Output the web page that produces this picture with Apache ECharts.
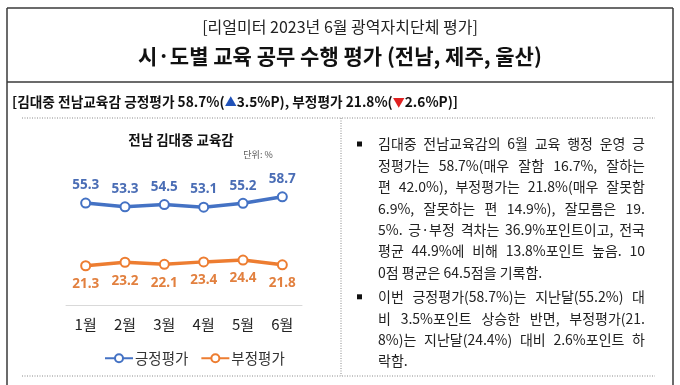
<!DOCTYPE html>
<html><head><meta charset="utf-8">
<script src="https://cdn.jsdelivr.net/npm/echarts@6/dist/echarts.min.js"></script>
<style>html,body{margin:0;padding:0;background:#fff}#c{width:680px;height:385px}</style>
</head><body><div id="c"></div>
<script>
// ---- data ----
const months = ['1월','2월','3월','4월','5월','6월'];
const positive = [55.3, 53.3, 54.5, 53.1, 55.2, 58.7];
const negative = [21.3, 23.2, 22.1, 23.4, 24.4, 21.8];
const seriesNames = ['긍정평가', '부정평가'];
const headTop = '[리얼미터 2023년 6월 광역자치단체 평가]';
const headMain = '시·도별 교육 공무 수행 평가 (전남, 제주, 울산)';
const chartTitle = '전남 김대중 교육감';
const unitText = '단위: %';
const para1 = [
  '김대중 전남교육감의 6월 교육 행정 운영 긍',
  '정평가는 58.7%(매우 잘함 16.7%, 잘하는',
  '편 42.0%), 부정평가는 21.8%(매우 잘못함',
  '6.9%, 잘못하는 편 14.9%), 잘모름은 19.',
  '5%. 긍·부정 격차는 36.9%포인트이고, 전국',
  '평균 44.9%에 비해 13.8%포인트 높음. 10',
  '0점 평균은 64.5점을 기록함.'
];
const para2 = [
  '이번 긍정평가(58.7%)는 지난달(55.2%) 대',
  '비 3.5%포인트 상승한 반면, 부정평가(21.',
  '8%)는 지난달(24.4%) 대비 2.6%포인트 하',
  '락함.'
];

const KR = '"Noto Sans CJK KR", "Noto Sans", sans-serif';
const BLUE = '#4472C4', ORANGE = '#ED7D31';

const cv = document.createElement('canvas').getContext('2d');
function justifyLines(lines, x0, yStart, width, lh, size, justifyLast) {
  const els = [];
  cv.font = size + 'px ' + KR;
  lines.forEach((ln, i) => {
    const words = ln.split(' ');
    const ws = words.map(w => cv.measureText(w).width);
    const sum = ws.reduce((a, b) => a + b, 0);
    const isLast = i === lines.length - 1;
    let gap = cv.measureText(' ').width;
    if (!(isLast && !justifyLast) && words.length > 1) gap = (width - sum) / (words.length - 1);
    let x = x0;
    const y = yStart + i * lh;
    words.forEach((w, k) => {
      els.push({type: 'text', x: x, y: y, silent: true,
        style: {text: w, fill: '#222', fontSize: size, fontFamily: KR, textVerticalAlign: 'middle'}});
      x += ws[k] + gap;
    });
  });
  return els;
}

const dotted = {stroke: '#8a8a8a', lineWidth: 1, lineDash: [1, 1.5]};
const frame = {stroke: '#3a3a3a', lineWidth: 1.5};
const TX0 = 378, TW = 267, LH = 21.4, FS = 14;
const P2 = 144 + 7 * LH + 3;

const graphics = [
  // outer frame
  {type: 'line', shape: {x1: 7, y1: 8, x2: 673, y2: 8}, style: frame},
  {type: 'line', shape: {x1: 7, y1: 82, x2: 673, y2: 82}, style: frame},
  {type: 'line', shape: {x1: 7, y1: 8, x2: 7, y2: 385}, style: frame},
  {type: 'line', shape: {x1: 673, y1: 8, x2: 673, y2: 385}, style: frame},
  // dotted dividers
  {type: 'line', shape: {x1: 22, y1: 118, x2: 655, y2: 118}, style: dotted},
  {type: 'line', shape: {x1: 22, y1: 376, x2: 655, y2: 376}, style: dotted},
  {type: 'line', shape: {x1: 341, y1: 118, x2: 341, y2: 376}, style: dotted},
  // headings
  {type: 'text', x: 340, y: 27, style: {text: headTop, fill: '#222', fontSize: 16, fontFamily: KR, textAlign: 'center', textVerticalAlign: 'middle'}},
  {type: 'text', x: 340, y: 56, style: {text: headMain, fill: '#111', fontSize: 21, fontWeight: 'bold', fontFamily: KR, textAlign: 'center', textVerticalAlign: 'middle'}},
  {type: 'text', x: 12, y: 102, style: {
    text: '{a|[김대중 전남교육감 긍정평가 58.7%(}{b|▲}{a|3.5%P), 부정평가 21.8%(}{c|▼}{a|2.6%P)]}',
    textVerticalAlign: 'middle',
    rich: {
      a: {fontSize: 13.7, fontWeight: 'bold', fontFamily: KR, fill: '#111', color: '#111'},
      b: {fontSize: 12, fontFamily: KR, fill: '#2152b8', color: '#2152b8'},
      c: {fontSize: 12, fontFamily: KR, fill: '#e02020', color: '#e02020'}
    }}},
  // chart title and unit
  {type: 'text', x: 181, y: 140, style: {text: chartTitle, fill: '#111', fontSize: 13.5, fontWeight: 'bold', fontFamily: KR, textAlign: 'center', textVerticalAlign: 'middle'}},
  {type: 'text', x: 258, y: 155, style: {text: unitText, fill: '#555', fontSize: 9, fontFamily: KR, textAlign: 'center', textVerticalAlign: 'middle'}},
  // bullets
  {type: 'rect', shape: {x: 357, y: 141.5, width: 5, height: 5}, style: {fill: '#111'}},
  {type: 'rect', shape: {x: 357, y: P2 - 2.5, width: 5, height: 5}, style: {fill: '#111'}}
].concat(
  justifyLines(para1, TX0, 144, TW, LH, FS, false),
  justifyLines(para2, TX0, P2, TW, LH, FS, false)
);

const chart = echarts.init(document.getElementById('c'), null, {renderer: 'canvas'});
chart.setOption({
  animation: false,
  backgroundColor: '#fff',
  grid: {left: 66, top: 176, width: 236, height: 129},
  legend: {
    data: seriesNames, left: 99, top: 346, itemWidth: 28, itemHeight: 10, itemGap: 12,
    textStyle: {fontSize: 14.5, color: '#333', fontFamily: KR, padding: [0, 0, 0, -3]}
  },
  xAxis: {
    type: 'category', data: months, boundaryGap: true,
    axisLine: {lineStyle: {color: '#d9d9d9', width: 1}},
    axisTick: {show: false},
    axisLabel: {fontSize: 15, color: '#222', fontFamily: KR, margin: 12}
  },
  yAxis: {type: 'value', min: 0, max: 70, show: false, splitLine: {show: false}},
  series: [
    {name: seriesNames[0], type: 'line', data: positive, symbol: 'emptyCircle', symbolSize: 9,
      lineStyle: {color: BLUE, width: 3.5}, itemStyle: {color: BLUE, borderWidth: 1.5},
      label: {show: true, position: 'top', distance: 5, color: '#4A6DB5', fontSize: 13.5, fontWeight: 'bold', fontFamily: '"Noto Sans", sans-serif'}},
    {name: seriesNames[1], type: 'line', data: negative, symbol: 'emptyCircle', symbolSize: 9,
      lineStyle: {color: ORANGE, width: 3.5}, itemStyle: {color: ORANGE, borderWidth: 1.5},
      label: {show: true, position: 'bottom', distance: 6, color: '#E2803F', fontSize: 13.5, fontWeight: 'bold', fontFamily: '"Noto Sans", sans-serif'}}
  ],
  graphic: graphics
});
</script></body></html>
